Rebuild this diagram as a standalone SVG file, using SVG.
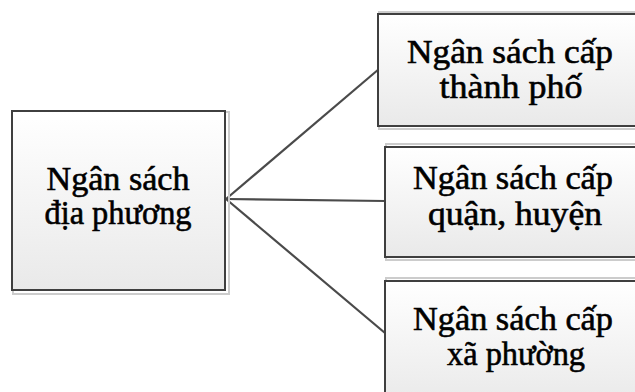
<svg xmlns="http://www.w3.org/2000/svg" width="635" height="392" viewBox="0 0 635 392">
  <defs>
    <linearGradient id="fillGrad" x1="0" y1="0" x2="0" y2="1">
      <stop offset="0" stop-color="#ffffff"/>
      <stop offset="1" stop-color="#e9e9e9"/>
    </linearGradient>
  </defs>
  <style>
    .shadow { fill: none; stroke: #cccccc; stroke-width: 2; }
    .box { fill: url(#fillGrad); stroke: #3f3f3f; stroke-width: 2; }
    .lbl { font-family: 'Liberation Serif', 'DejaVu Serif', serif; font-size: 34px; fill: #000000; stroke: #000000; stroke-width: 0.6; text-anchor: middle; }
    .conn { stroke: #4a4a4a; stroke-width: 2.2; fill: none; }
  </style>
  <rect width="635" height="392" fill="#ffffff"/>

  <g id="connectors">
    <line class="conn" x1="226" y1="199" x2="379" y2="69"/>
    <line class="conn" x1="226" y1="199" x2="385" y2="201"/>
    <line class="conn" x1="226" y1="199" x2="385" y2="333"/>
  </g>

  <g id="node-root">
    <rect class="shadow" x="13" y="112" width="216" height="182"/>
    <rect class="box" x="12" y="111" width="213" height="179"/>
    <text class="lbl" x="118" y="190" textLength="143" lengthAdjust="spacingAndGlyphs">Ngân sách</text>
    <text class="lbl" x="118" y="224" textLength="147" lengthAdjust="spacingAndGlyphs">địa phương</text>
  </g>

  <g id="node-city">
    <rect class="shadow" x="379" y="12" width="270" height="117"/>
    <rect class="box" x="378" y="14" width="270" height="112"/>
    <text class="lbl" x="510" y="63" textLength="206" lengthAdjust="spacingAndGlyphs">Ngân sách cấp</text>
    <text class="lbl" x="511" y="98" textLength="143" lengthAdjust="spacingAndGlyphs">thành phố</text>
  </g>

  <g id="node-district">
    <rect class="shadow" x="386" y="144" width="270" height="116"/>
    <rect class="box" x="385" y="147" width="270" height="110"/>
    <text class="lbl" x="513" y="189" textLength="200" lengthAdjust="spacingAndGlyphs">Ngân sách cấp</text>
    <text class="lbl" x="515" y="225" textLength="174" lengthAdjust="spacingAndGlyphs">quận, huyện</text>
  </g>

  <g id="node-ward">
    <rect class="shadow" x="386" y="278" width="270" height="130"/>
    <rect class="box" x="385" y="281" width="270" height="125"/>
    <text class="lbl" x="513" y="330" textLength="200" lengthAdjust="spacingAndGlyphs">Ngân sách cấp</text>
    <text class="lbl" x="516" y="365" textLength="138" lengthAdjust="spacingAndGlyphs">xã phường</text>
  </g>
</svg>
